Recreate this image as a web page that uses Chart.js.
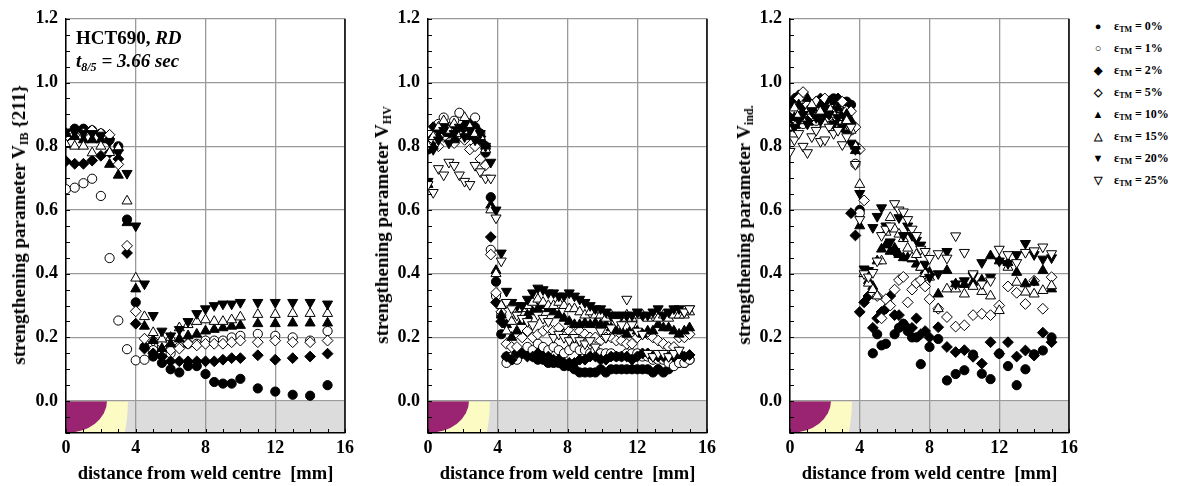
<!DOCTYPE html>
<html>
<head>
<meta charset="utf-8">
<script src="https://cdn.jsdelivr.net/npm/chart.js@4.4.1/dist/chart.umd.min.js"></script>
<style>
  body { margin: 0; background: #fff; }
  #wrap { position: relative; width: 1182px; height: 486px; font-family: "Liberation Serif", "Times New Roman", serif; font-weight: bold; color: #000; }
  .panel { position: absolute; top: 0; width: 360px; height: 486px; }
  .ytitle { position: absolute; top: 225px; transform: translate(-50%, -50%) rotate(-90deg); white-space: nowrap; font-size: 19px; }
  .ytitle sub { font-size: 12px; vertical-align: -3px; }
  .note { position: absolute; left: 76px; font-size: 19px; line-height: 19px; white-space: nowrap; }
  .note sub { font-size: 12px; vertical-align: -4px; }
  #legend { position: absolute; left: 1088px; top: 15px; font-size: 12px; }
  #legend div { height: 22px; line-height: 22px; white-space: nowrap; }
  #legend span.m { display: inline-block; width: 20px; text-align: center; font-size: 11px; margin-right: 6px; }
  #legend sub { font-size: 8px; vertical-align: -2px; }
</style>
</head>
<body>
<div id="wrap">
  <canvas id="c1" class="panel" style="left:0px" width="360" height="486"></canvas>
  <canvas id="c2" class="panel" style="left:362px" width="360" height="486"></canvas>
  <canvas id="c3" class="panel" style="left:724px" width="360" height="486"></canvas>

  <div class="ytitle" style="left:20px">strengthening parameter V<sub>IB</sub> {211}</div>
  <div class="ytitle" style="left:383px">strengthening parameter V<sub>HV</sub></div>
  <div class="ytitle" style="left:745px">strengthening parameter V<sub>ind.</sub></div>

  <div class="note" style="top:28px">HCT690, <i>RD</i></div>
  <div class="note" style="top:51px"><i>t<sub>8/5</sub> = 3.66 sec</i></div>

  <div id="legend"></div>
</div>

<script>
// strain levels
const STRAINS = ['0%', '1%', '2%', '5%', '10%', '15%', '20%', '25%'];
const X_TICKS = [0, 4, 8, 12, 16];
const Y_TICKS = [0.0, 0.2, 0.4, 0.6, 0.8, 1.0, 1.2];

// panel 1 : V_IB {211}
const X_IB = [0, 0.5, 1, 1.5, 2, 2.5, 3, 3.5, 4, 4.5, 5, 5.5, 6, 6.5, 7, 7.5, 8, 8.5, 9, 9.5, 10, 11, 12, 13, 14, 15];
const IB_0  = [0.83, 0.855, 0.855, 0.85, 0.84, 0.82, 0.80, 0.57, 0.31, 0.17, 0.14, 0.12, 0.10, 0.09, 0.11, 0.11, 0.085, 0.06, 0.055, 0.055, 0.07, 0.04, 0.03, 0.02, 0.017, 0.05];
const IB_1  = [0.665, 0.67, 0.684, 0.698, 0.644, 0.449, 0.253, 0.163, 0.128, 0.13, 0.16, 0.17, 0.15, 0.17, 0.18, 0.18, 0.19, 0.19, 0.19, 0.20, 0.205, 0.211, 0.205, 0.20, 0.19, 0.22];
const IB_2  = [0.753, 0.745, 0.745, 0.755, 0.77, 0.78, 0.76, 0.465, 0.243, 0.165, 0.15, 0.14, 0.125, 0.125, 0.125, 0.125, 0.125, 0.125, 0.13, 0.135, 0.135, 0.144, 0.13, 0.135, 0.14, 0.149];
const IB_5  = [0.83, 0.835, 0.84, 0.85, 0.84, 0.836, 0.743, 0.4875, 0.282, 0.196, 0.19, 0.18, 0.16, 0.165, 0.18, 0.175, 0.18, 0.18, 0.18, 0.185, 0.19, 0.185, 0.19, 0.185, 0.185, 0.19];
const IB_10 = [0.84, 0.83, 0.82, 0.82, 0.82, 0.743, 0.709, 0.56, 0.352, 0.235, 0.19, 0.165, 0.18, 0.195, 0.205, 0.21, 0.22, 0.225, 0.23, 0.235, 0.2375, 0.243, 0.243, 0.245, 0.245, 0.245];
const IB_15 = [0.805, 0.80, 0.80, 0.779, 0.80, 0.78, 0.795, 0.628, 0.386, 0.265, 0.215, 0.195, 0.20, 0.23, 0.24, 0.25, 0.255, 0.25, 0.25, 0.255, 0.264, 0.272, 0.272, 0.275, 0.275, 0.275];
const IB_20 = [0.845, 0.845, 0.84, 0.84, 0.835, 0.815, 0.78, 0.715, 0.55, 0.368, 0.269, 0.22, 0.205, 0.225, 0.25, 0.275, 0.29, 0.30, 0.305, 0.305, 0.31, 0.31, 0.31, 0.31, 0.31, 0.305];
const IB_25 = [];

// panel 2 : V_HV
const X_HV = [0, 0.3, 0.6, 0.9, 1.2, 1.5, 1.8, 2.1, 2.4, 2.7, 3.0, 3.3,
  3.6, 3.9, 4.2, 4.5, 4.8, 5.1, 5.4, 5.7, 6.0, 6.3, 6.6, 6.9,
  7.2, 7.5, 7.8, 8.1, 8.4, 8.7, 9.0, 9.3, 9.6, 9.9, 10.2, 10.5,
  10.8, 11.1, 11.4, 11.7, 12.0, 12.3, 12.6, 12.9, 13.2, 13.5, 13.8, 14.1,
  14.4, 14.7, 15.0];
const HV_0 = [0.79, 0.80, 0.83, 0.85, 0.84, 0.86, 0.83, 0.85, 0.84, 0.86, 0.82, 0.78,
  0.64, 0.375, 0.21, 0.14, 0.13, 0.14, 0.15, 0.15, 0.14, 0.13, 0.13, 0.12,
  0.12, 0.12, 0.11, 0.11, 0.10, 0.09, 0.09, 0.09, 0.09, 0.10, 0.09, 0.10,
  0.10, 0.10, 0.10, 0.10, 0.10, 0.10, 0.10, 0.09, 0.10, 0.09, 0.10, 0.12,
  0.12, 0.12, 0.13];
const HV_1 = [0.81, 0.84, 0.87, 0.89, 0.86, 0.88, 0.905, 0.85, 0.87, 0.89, 0.84, 0.80,
  0.475, 0.33, 0.27, 0.12, 0.14, 0.13, 0.15, 0.17, 0.16, 0.18, 0.17, 0.16,
  0.17, 0.16, 0.15, 0.16, 0.17, 0.16, 0.16, 0.15, 0.16, 0.15, 0.15, 0.15,
  0.14, 0.14, 0.15, 0.15, 0.15, 0.14, 0.14, 0.13, 0.13, 0.13, 0.12, 0.11,
  0.12, 0.12, 0.13];
const HV_2 = [0.84, 0.86, 0.85, 0.87, 0.85, 0.86, 0.84, 0.86, 0.87, 0.85, 0.83, 0.80,
  0.515, 0.31, 0.25, 0.14, 0.13, 0.15, 0.15, 0.14, 0.14, 0.15, 0.14, 0.14,
  0.13, 0.13, 0.12, 0.12, 0.12, 0.13, 0.13, 0.14, 0.14, 0.13, 0.13, 0.14,
  0.14, 0.14, 0.14, 0.13, 0.14, 0.15, 0.15, 0.14, 0.14, 0.14, 0.14, 0.14,
  0.15, 0.14, 0.145];
const HV_5 = [0.845, 0.82, 0.80, 0.83, 0.85, 0.81, 0.84, 0.82, 0.79, 0.80, 0.76, 0.74,
  0.46, 0.34, 0.28, 0.18, 0.17, 0.17, 0.20, 0.22, 0.20, 0.21, 0.22, 0.23,
  0.22, 0.23, 0.21, 0.22, 0.21, 0.22, 0.21, 0.20, 0.20, 0.19, 0.20, 0.20,
  0.19, 0.19, 0.18, 0.18, 0.20, 0.21, 0.21, 0.20, 0.19, 0.18, 0.17, 0.17,
  0.20, 0.20, 0.21];
const HV_10 = [0.68, 0.80, 0.83, 0.86, 0.84, 0.82, 0.85, 0.87, 0.83, 0.86, 0.84, 0.80,
  0.615, 0.41, 0.27, 0.24, 0.20, 0.22, 0.25, 0.27, 0.28, 0.29, 0.30, 0.29,
  0.28, 0.27, 0.26, 0.25, 0.24, 0.24, 0.245, 0.24, 0.245, 0.24, 0.24, 0.23,
  0.22, 0.22, 0.21, 0.23, 0.22, 0.21, 0.22, 0.22, 0.24, 0.23, 0.23, 0.22,
  0.21, 0.22, 0.23];
const HV_15 = [0.80, 0.83, 0.86, 0.88, 0.85, 0.87, 0.84, 0.89, 0.86, 0.84, 0.83, 0.79,
  0.60, 0.40, 0.30, 0.22, 0.25, 0.27, 0.29, 0.30, 0.31, 0.32, 0.31, 0.30,
  0.30, 0.31, 0.30, 0.29, 0.29, 0.28, 0.27, 0.28, 0.27, 0.27, 0.26, 0.27,
  0.26, 0.26, 0.27, 0.26, 0.27, 0.27, 0.26, 0.27, 0.26, 0.27, 0.26, 0.27,
  0.27, 0.27, 0.28];
const HV_20 = [0.69, 0.79, 0.82, 0.85, 0.81, 0.84, 0.86, 0.83, 0.85, 0.82, 0.84, 0.80,
  0.75, 0.60, 0.465, 0.345, 0.31, 0.30, 0.30, 0.32, 0.34, 0.355, 0.35, 0.34,
  0.34, 0.33, 0.33, 0.34, 0.33, 0.32, 0.31, 0.30, 0.29, 0.29, 0.28, 0.27,
  0.27, 0.27, 0.27, 0.27, 0.28, 0.27, 0.27, 0.28, 0.29, 0.27, 0.28, 0.29,
  0.29, 0.28, 0.29];
const HV_25 = [0.68, 0.655, 0.73, 0.71, 0.75, 0.74, 0.71, 0.69, 0.68, 0.74, 0.72, 0.70,
  0.70, 0.575, 0.44, 0.31, 0.29, 0.27, 0.26, 0.25, 0.24, 0.27, 0.26, 0.25,
  0.20, 0.21, 0.20, 0.19, 0.20, 0.19, 0.18, 0.19, 0.17, 0.22, 0.20, 0.23,
  0.25, 0.24, 0.32, 0.24, 0.22, 0.21, 0.15, 0.14, 0.15, 0.15, 0.14, 0.15,
  0.16, 0.28, 0.29];

// panel 3 : V_ind.
const X_IND = [0, 0.25, 0.5, 0.75, 1, 1.25, 1.5, 1.75, 2, 2.25, 2.5, 2.75, 3, 3.25, 3.5,
  3.75, 4, 4.25, 4.5, 4.75, 5, 5.25, 5.5,
  5.75, 6, 6.25, 6.5, 6.75, 7, 7.25, 7.5, 7.75, 8,
  8.5, 9, 9.5, 10, 10.5, 11, 11.5, 12, 12.5, 13, 13.5, 14, 14.5, 15];
const IND_0 = [0.88, 0.90, 0.87, 0.89, 0.91, 0.88, 0.90, 0.92, 0.89, 0.91, 0.95, 0.93, 0.90, 0.94, 0.93,
  0.80, 0.60, null, null, 0.15, 0.21, 0.175, 0.18,
  null, 0.21, 0.23, 0.243, 0.22, 0.20, 0.20, 0.116, null, 0.17,
  0.195, 0.065, 0.085, 0.097, 0.146, 0.086, 0.069, 0.149, 0.11, 0.05, 0.10, 0.147, 0.159, 0.20];
const IND_1 = [0.86, 0.88, 0.90, 0.87, 0.89, 0.91, 0.88, 0.90, 0.92, 0.89, 0.87, 0.90, 0.88, 0.86, 0.85,
  0.745, 0.59];
const IND_2 = [0.93, 0.95, 0.96, 0.92, 0.88, 0.90, 0.94, 0.95, 0.93, 0.90, 0.92, 0.95, 0.91, 0.88, 0.59,
  0.52, 0.28, 0.31, 0.33, 0.23, 0.26, 0.28, 0.29,
  0.33, 0.27, 0.27, 0.24, 0.23, 0.23, 0.26, 0.21, 0.22, 0.20,
  0.232, 0.17, 0.154, 0.16, 0.139, 0.118, 0.185, 0.149, 0.185, 0.14, 0.159, 0.143, 0.215, 0.185];
const IND_5 = [0.88, 0.91, 0.95, 0.97, 0.93, 0.90, 0.94, 0.92, 0.95, 0.93, 0.90, 0.92, 0.94, 0.91, 0.91,
  0.86, 0.79, 0.63, 0.40, 0.34, 0.33, 0.26, 0.32,
  0.30, 0.35, 0.38, 0.39, 0.31, 0.35, 0.37, 0.38, 0.36, 0.32,
  0.29, 0.264, 0.234, 0.238, 0.27, 0.274, 0.27, 0.30, 0.36, 0.34, 0.305, 0.378, 0.29, 0.389];
const IND_10 = [0.87, 0.89, 0.93, 0.91, 0.95, 0.92, 0.89, 0.93, 0.90, 0.94, 0.91, 0.92, 0.89, 0.90, 0.88,
  0.786, 0.55, 0.40, 0.378, 0.36, 0.44, 0.477, 0.49,
  0.47, 0.48, 0.46, 0.45, 0.45, 0.446, 0.43, 0.42, 0.41, 0.404,
  0.336, 0.41, 0.368, 0.366, 0.373, 0.38, 0.456, 0.44, 0.435, 0.404, 0.368, 0.373, 0.41, 0.352];
const IND_15 = [0.86, 0.92, 0.90, 0.88, 0.91, 0.93, 0.89, 0.91, 0.87, 0.92, 0.90, 0.89, 0.86, 0.88, 0.85,
  0.80, 0.68, 0.40, 0.37, 0.35, 0.33, 0.44, 0.53,
  0.576, 0.54, 0.524, 0.51, 0.48, 0.45, 0.46, 0.42, 0.40, 0.389,
  0.29, 0.352, 0.352, 0.336, 0.36, 0.344, 0.33, 0.284, 0.42, 0.373, 0.342, 0.336, 0.347, 0.362];
const IND_20 = [0.89, 0.86, 0.88, 0.90, 0.87, 0.91, 0.89, 0.88, 0.92, 0.90, 0.87, 0.89, 0.86, 0.84, 0.81,
  0.79, 0.652, 0.415, 0.41, 0.545, 0.58, 0.607, 0.55,
  0.50, 0.47, 0.576, 0.52, 0.55, 0.52, 0.505, 0.49, 0.43, 0.389,
  0.40, 0.47, 0.368, 0.378, 0.394, 0.435, 0.389, 0.44, 0.432, 0.46, 0.495, 0.46, 0.446, 0.45];
const IND_25 = [0.784, 0.82, 0.84, 0.80, 0.78, 0.83, 0.85, 0.815, 0.82, 0.86, 0.84, 0.85, 0.805, 0.83, 0.86,
  0.743, 0.57, 0.40, 0.39, 0.404, 0.44, 0.52, 0.54,
  0.55, 0.62, 0.60, 0.594, 0.57, 0.54, 0.52, 0.477, 0.47, 0.448,
  0.463, 0.449, 0.519, 0.467, 0.40, 0.368, 0.378, 0.477, 0.46, 0.435, 0.467, 0.472, 0.484, 0.463];

// marker look of each strain level (same order as STRAINS)
const MARKERS = [
  { style: 'circle',   filled: true,  rot: 0,   r: 4.6, glyph: '●' },
  { style: 'circle',   filled: false, rot: 0,   r: 4.6, glyph: '○' },
  { style: 'rectRot',  filled: true,  rot: 0,   r: 5.4, glyph: '◆' },
  { style: 'rectRot',  filled: false, rot: 0,   r: 5.4, glyph: '◇' },
  { style: 'triangle', filled: true,  rot: 0,   r: 5.8, glyph: '▲' },
  { style: 'triangle', filled: false, rot: 0,   r: 5.8, glyph: '△' },
  { style: 'triangle', filled: true,  rot: 180, r: 5.8, glyph: '▼' },
  { style: 'triangle', filled: false, rot: 180, r: 5.8, glyph: '▽' }
];

// weld zone sketch under the x axis (mm)
const FUSION_HALF_WIDTH = 2.35;
const HAZ_HALF_WIDTH = 3.55;

const FONT = '"Liberation Serif", "Times New Roman", serif';

function toPoints(xs, ys) {
  return xs.map((x, i) => ({ x: x, y: ys[i] })).filter(p => p.y !== null && p.y !== undefined);
}

const weldZones = {
  id: 'weldZones',
  beforeDraw(chart) {
    const { ctx, chartArea: a, scales: { x, y } } = chart;
    const y0 = y.getPixelForValue(0);
    const yb = y.getPixelForValue(-0.1);
    const x0 = x.getPixelForValue(0);
    ctx.save();
    ctx.beginPath();
    ctx.rect(a.left, y0, a.right - a.left, yb - y0);
    ctx.clip();
    ctx.fillStyle = '#dcdcdc';
    ctx.fillRect(a.left, y0, a.right - a.left, yb - y0);
    ctx.fillStyle = '#fdfbc4';
    ctx.beginPath();
    ctx.ellipse(x0, y0, x.getPixelForValue(HAZ_HALF_WIDTH) - x0, (yb - y0) * 3.1, 0, 0, Math.PI * 2);
    ctx.fill();
    ctx.fillStyle = '#9a2372';
    ctx.beginPath();
    ctx.ellipse(x0, y0, x.getPixelForValue(FUSION_HALF_WIDTH) - x0, yb - y0, 0, 0, Math.PI * 2);
    ctx.fill();
    ctx.restore();
  }
};

// small inside ticks + right frame
const frame = {
  id: 'frame',
  afterDraw(chart) {
    const { ctx, chartArea: a, scales: { x, y } } = chart;
    ctx.save();
    ctx.strokeStyle = '#000';
    ctx.lineWidth = 1;
    ctx.beginPath();
    for (let i = -2; i <= 24; i++) {
      const py = Math.round(y.getPixelForValue(i * 0.05)) + 0.5;
      ctx.moveTo(a.left, py);
      ctx.lineTo(a.left + 4, py);
    }
    for (let i = 0; i <= 16; i++) {
      const px = Math.round(x.getPixelForValue(i)) + 0.5;
      ctx.moveTo(px, a.bottom);
      ctx.lineTo(px, a.bottom - 4);
    }
    ctx.stroke();
    ctx.lineWidth = 1.5;
    ctx.beginPath();
    ctx.moveTo(a.right, a.top);
    ctx.lineTo(a.right, a.bottom);
    ctx.stroke();
    ctx.restore();
  }
};

function makePanel(id, xs, series) {
  const datasets = series.map((ys, i) => {
    const m = MARKERS[i];
    return {
      label: STRAINS[i],
      data: toPoints(xs, ys),
      pointStyle: m.style,
      rotation: m.rot,
      pointRadius: m.r,
      pointBorderWidth: 1,
      pointBorderColor: '#000',
      pointBackgroundColor: m.filled ? '#000' : '#fff',
      showLine: false,
      order: series.length - i
    };
  });

  new Chart(document.getElementById(id), {
    type: 'scatter',
    data: { datasets: datasets },
    options: {
      responsive: false,
      animation: false,
      layout: { padding: { top: 17, right: 15, left: 0, bottom: 0 } },
      plugins: { legend: { display: false }, tooltip: { enabled: false } },
      scales: {
        x: {
          type: 'linear',
          min: 0,
          max: 16,
          afterBuildTicks: s => { s.ticks = X_TICKS.map(v => ({ value: v })); },
          afterFit: s => { s.height = 53; },
          grid: { color: '#9a9a9a', lineWidth: 1.3, drawTicks: false },
          border: { color: '#000', width: 1.5 },
          ticks: { padding: 5, color: '#000', font: { family: FONT, size: 18, weight: 'bold' } },
          title: {
            display: true,
            text: 'distance from weld centre  [mm]',
            color: '#000',
            padding: { top: 0, bottom: 1 },
            font: { family: FONT, size: 18.5, weight: 'bold' }
          }
        },
        y: {
          type: 'linear',
          min: -0.1,
          max: 1.2,
          afterBuildTicks: s => { s.ticks = Y_TICKS.map(v => ({ value: v })); },
          afterFit: s => { s.width = 66; },
          grid: { color: '#9a9a9a', lineWidth: 1.3, drawTicks: false },
          border: { color: '#000', width: 1.5 },
          ticks: {
            padding: 8,
            color: '#000',
            font: { family: FONT, size: 18, weight: 'bold' },
            callback: v => Number(v).toFixed(1)
          }
        }
      }
    },
    plugins: [weldZones, frame]
  });
}

makePanel('c1', X_IB, [IB_0, IB_1, IB_2, IB_5, IB_10, IB_15, IB_20, IB_25]);
makePanel('c2', X_HV, [HV_0, HV_1, HV_2, HV_5, HV_10, HV_15, HV_20, HV_25]);
makePanel('c3', X_IND, [IND_0, IND_1, IND_2, IND_5, IND_10, IND_15, IND_20, IND_25]);

// legend (right side)
const legend = document.getElementById('legend');
STRAINS.forEach((s, i) => {
  const row = document.createElement('div');
  row.innerHTML = '<span class="m">' + MARKERS[i].glyph + '</span>&epsilon;<sub>TM</sub> = ' + s;
  legend.appendChild(row);
});
</script>
</body>
</html>
